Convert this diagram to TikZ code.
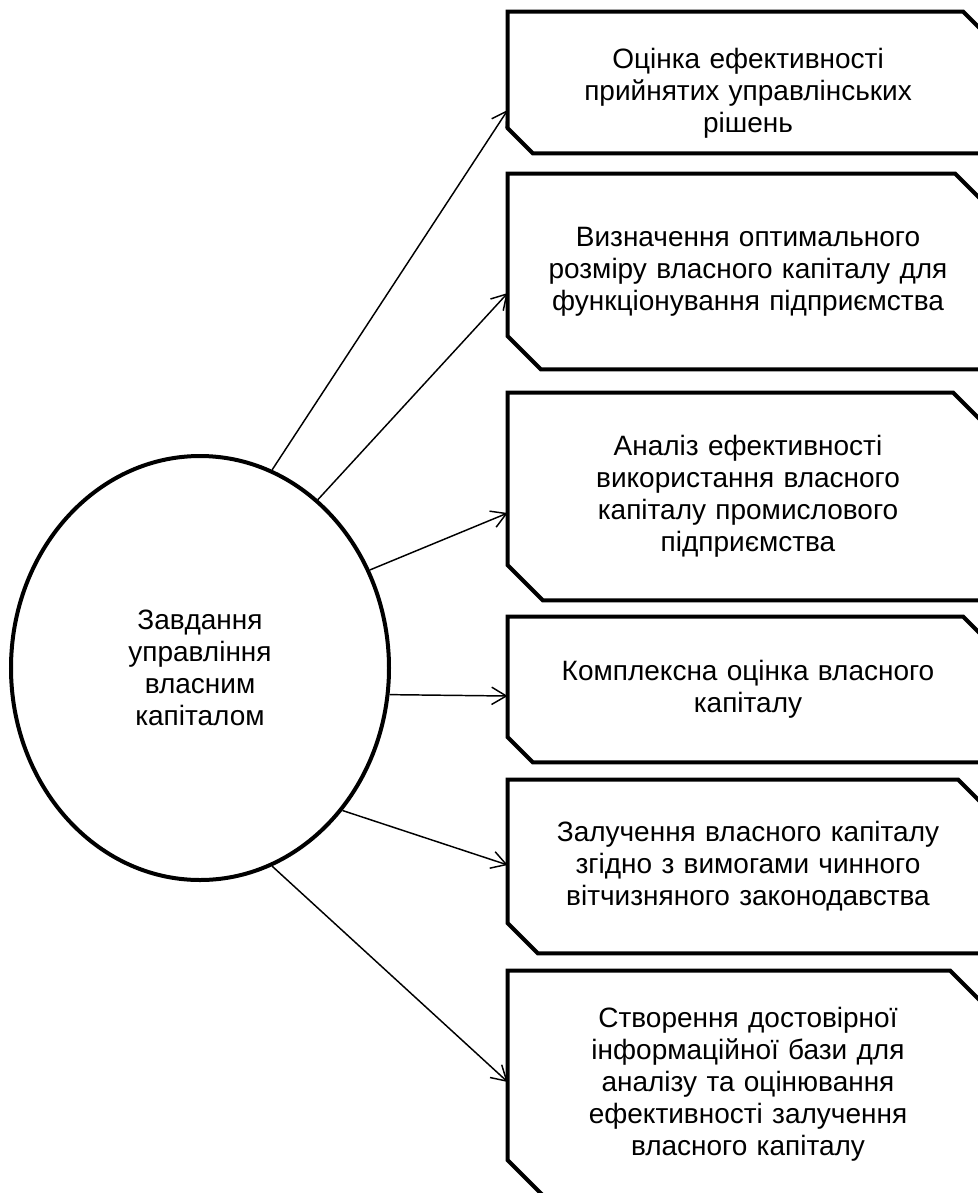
\documentclass[tikz,border=0pt]{standalone}
\usepackage{fontspec}
\setmainfont{Liberation Sans}
\usetikzlibrary{arrows.meta,calc,shapes.geometric}

% draws the snipped-corner outline around a named node; #2 = cut in px
\newcommand{\snipoutline}[2]{%
  \draw[boxline] (#1.north west) -- ($(#1.north east)+(-#2,0)$) -- ($(#1.north east)+(0,#2)$)
    -- (#1.south east) -- ($(#1.south west)+(#2,0)$) -- ($(#1.south west)+(0,-#2)$) -- cycle;}

\tikzset{
  boxline/.style={line width=3pt, line join=miter},
  boxfont/.style={font=\fontsize{21pt}{24pt}\selectfont},
  boxtext/.style={rectangle, inner sep=0pt, minimum width=360pt, text width=350pt,
    align=center, boxfont},
  labeltext/.style={inner sep=0pt, text width=350pt, align=center, boxfont},
  centre/.style={ellipse, draw, line width=3pt, inner sep=0pt, minimum width=283.5pt,
    minimum height=318pt, align=center, boxfont},
  conn/.style={line width=1.1pt, -{Straight Barb[length=11pt,width=13pt,line width=1.1pt]}}
}

\begin{document}
\begin{tikzpicture}[x=0.75pt, y=-0.75pt]
\useasboundingbox (0,0) rectangle (978,1193);
\fill[white] (0,0) rectangle (978,1193);
\clip (0,0) rectangle (978,1193);

\node[centre] (e) at (200,668) {Завдання\\управління\\власним\\капіталом};

\node[boxtext, minimum height=105.75pt,
  label={[labeltext, yshift=-8pt]center:{Оцінка ефективності\\прийнятих управлінських\\рішень}}]
  (b1) at (748,82.5) {};
\node[boxtext, minimum height=146.25pt] (b2) at (748,271.5)
  {Визначення оптимального\\розміру власного капіталу для\\функціонування підприємства};
\node[boxtext, minimum height=155.25pt] (b3) at (748,496.5)
  {Аналіз ефективності\\використання власного\\капіталу промислового\\підприємства};
\node[boxtext, minimum height=108.75pt] (b4) at (748,689.5)
  {Комплексна оцінка власного\\капіталу};
\node[boxtext, minimum height=129.75pt] (b5) at (748,866.5)
  {Залучення власного капіталу\\згідно з вимогами чинного\\вітчизняного законодавства};
\node[boxtext, minimum height=170.25pt] (b6) at (748,1084.5)
  {Створення достовірної\\інформаційної бази для\\аналізу та оцінювання\\ефективності залучення\\власного капіталу};

\snipoutline{b1}{25}
\snipoutline{b2}{33}
\snipoutline{b3}{35}
\snipoutline{b4}{25}
\snipoutline{b5}{30}
\snipoutline{b6}{38}

\draw[conn] (e.70)  -- ($(b1.west)+(0,27.5)$);
\draw[conn] (e.55)  -- ($(b2.west)+(0,21.5)$);
\draw[conn] (e.30)  -- ($(b3.west)+(0,16.5)$);
\draw[conn] (e.-8)  -- ($(b4.west)+(0,6.5)$);
\draw[conn] (e.-45) -- ($(b5.west)+(0,-1.5)$);
\draw[conn] (e.-70) -- ($(b6.west)+(0,-2.5)$);
\end{tikzpicture}
\end{document}
